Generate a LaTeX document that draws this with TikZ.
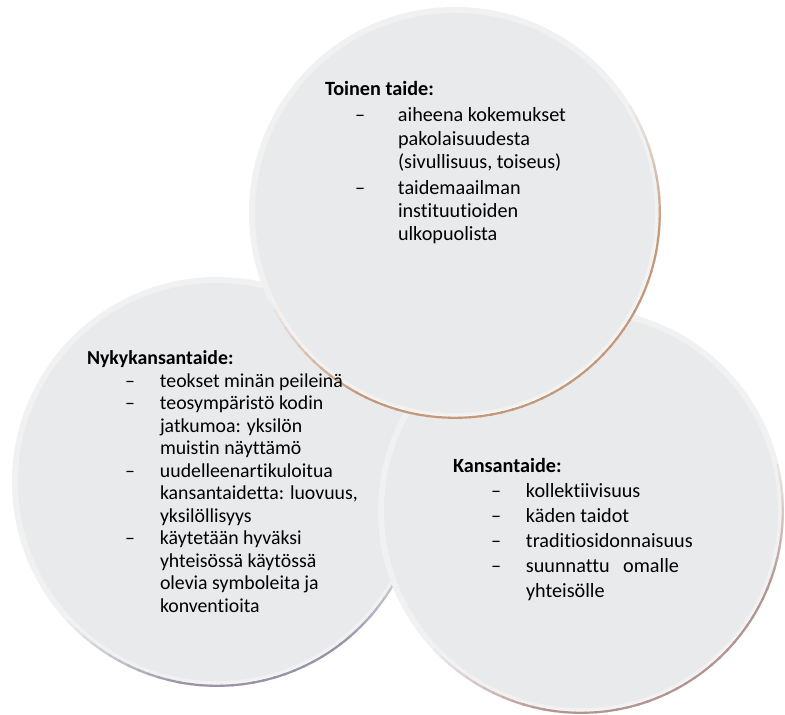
\documentclass[tikz,border=0pt]{standalone}
\usepackage{fontspec}
\setmainfont{Carlito}[RawFeature={-liga;-clig;-dlig}]
\definecolor{discfill}{HTML}{E9EAEC}
\definecolor{discring}{HTML}{F1F1F2}
\definecolor{rimbrown}{HTML}{C4987A}
\definecolor{rimmauve}{HTML}{B39490}
\definecolor{rimviolet}{HTML}{9A92A8}
\tikzset{
  disc/.style={circle, fill=discring, draw=none, inner sep=0pt, outer sep=0pt},
  txt/.style={anchor=base west, inner sep=0pt, outer sep=0pt, align=left, text=black},
}
% bevelled disc: light outer band, flat face, coloured rim fading in and out along an arc
\newcommand{\bevdisc}[5]{% name, radius, start angle, end angle, rim colour
  \fill[discfill] (#1.center) circle (#2-6);
  \pgfmathtruncatemacro\rimsecond{#3+3}
  \pgfmathtruncatemacro\rimlast{#4-3}
  \foreach \a in {#3,\rimsecond,...,\rimlast}{
    \pgfmathtruncatemacro\w{100*min(1,min((\a-(#3))/38,((#4)-\a)/38))}
    \draw[color=#5!\w!discring, line width=2.2pt]
      ([shift={(\a:#2-1.2)}]#1.center) arc[start angle=\a, end angle=\a+3.6, radius=#2-1.2];
  }
  \draw[white, line width=0.6pt, opacity=0.6]
    ([shift={(#3+40:#2-3)}]#1.center) arc[start angle=#3+40, end angle=#4-40, radius=#2-3];
}
\begin{document}
\begin{tikzpicture}[x=1pt, y=1pt]
\useasboundingbox (0,0) rectangle (785,715);
\fill[white] (0,0) rectangle (785,715);

% left disc
\node[disc, minimum size=410pt] (left) at (217,233) {};
\bevdisc{left}{205}{-140}{-15}{rimviolet}

% right disc
\node[disc, minimum size=406pt] (right) at (581,204) {};
\bevdisc{right}{203}{-140}{15}{rimmauve}

% top disc
\node[disc, minimum size=412pt] (top) at (455,502) {};
\bevdisc{top}{206}{-158}{32}{rimbrown}

% texts
\node[txt, font=\fontsize{20.2}{23.3}\selectfont] (toptext) at (325,619) {%
\begin{tabular}[t]{@{}p{30pt}@{}p{43pt}@{}l@{}}
\multicolumn{3}{@{}l@{}}{\textbf{Toinen taide:}}\\[2.6pt]
& – & aiheena kokemukset\\
&& pakolaisuudesta\\
&& (sivullisuus, toiseus)\\[2.6pt]
& – & taidemaailman\\
&& instituutioiden\\
&& ulkopuolista
\end{tabular}};

\node[txt, font=\fontsize{19.8}{22.5}\selectfont] (lefttext) at (87,350) {%
\begin{tabular}[t]{@{}p{38pt}@{}p{35pt}@{}l@{}}
\multicolumn{3}{@{}l@{}}{\textbf{Nykykansantaide:}}\\
& – & teokset minän peileinä\\
& – & teosympäristö kodin\\
&& jatkumoa: yksilön\\
&& muistin näyttämö\\
& – & uudelleenartikuloitua\\
&& kansantaidetta: luovuus,\\
&& yksilöllisyys\\
& – & käytetään hyväksi\\
&& yhteisössä käytössä\\
&& olevia symboleita ja\\
&& konventioita
\end{tabular}};

\node[txt, font=\fontsize{20.2}{25}\selectfont] (righttext) at (453,242) {%
\begin{tabular}[t]{@{}p{38pt}@{}p{35pt}@{}l@{}}
\multicolumn{3}{@{}l@{}}{\textbf{Kansantaide:}}\\
& – & kollektiivisuus\\
& – & käden taidot\\
& – & traditiosidonnaisuus\\
& – & suunnattu\hspace*{9pt} omalle\\
&& yhteisölle
\end{tabular}};
\end{tikzpicture}
\end{document}
